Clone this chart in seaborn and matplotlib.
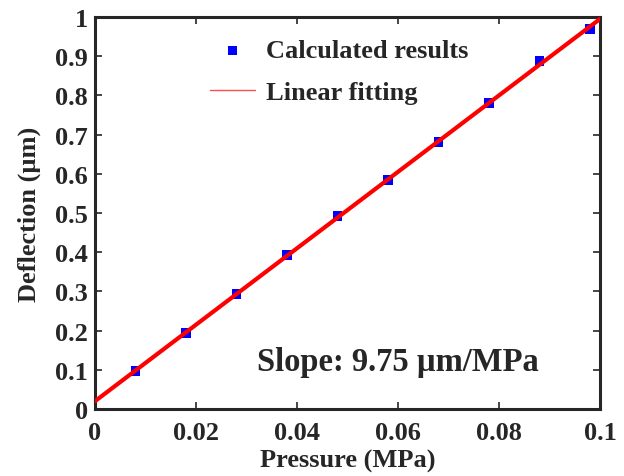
import numpy as np
import pandas as pd
import matplotlib
matplotlib.use("Agg")
import matplotlib.pyplot as plt
import seaborn as sns
from matplotlib.lines import Line2D

pressure = [0.008, 0.018, 0.028, 0.038, 0.048, 0.058, 0.068, 0.078, 0.088, 0.098]
deflection = [0.097, 0.194, 0.293, 0.393, 0.492, 0.584, 0.681, 0.781, 0.888, 0.969]
fit_x = [0.0, 0.1]
fit_y = [0.02, 0.995]
xticks = [0, 0.02, 0.04, 0.06, 0.08, 0.1]
xticklabels = ["0", "0.02", "0.04", "0.06", "0.08", "0.1"]
yticks = [0, 0.1, 0.2, 0.3, 0.4, 0.5, 0.6, 0.7, 0.8, 0.9, 1]
yticklabels = ["0", "0.1", "0.2", "0.3", "0.4", "0.5", "0.6", "0.7", "0.8", "0.9", "1"]

sns.set_style("ticks")
plt.rcParams['font.family'] = ['Liberation Serif', 'DejaVu Serif']
plt.rcParams['font.weight'] = 'bold'
plt.rcParams['axes.labelweight'] = 'bold'

FS = 19

fig = plt.figure(figsize=(6.24, 4.77), dpi=100)
ax = fig.add_axes([95/624, 67/477, 505/624, 392/477])

df = pd.DataFrame({"x": pressure, "y": deflection})
fit = pd.DataFrame({"x": fit_x, "y": fit_y})

sns.scatterplot(data=df, x="x", y="y", ax=ax, marker="s", s=45, color="#0000ff",
                edgecolor="none", label="Calculated results", zorder=2)
sns.lineplot(data=fit, x="x", y="y", ax=ax, color="#ff0000", lw=3,
             label="_nolegend_", zorder=3)
handles, labels = ax.get_legend_handles_labels()
handles = [h for h, l in zip(handles, labels) if l == "Calculated results"]
handles.append(Line2D([], [], color="#ff0000", lw=1, alpha=0.7))
ax.legend(handles, ["Calculated results", "Linear fitting"], loc="upper left",
          bbox_to_anchor=(186/624, 1 - 16/477), bbox_transform=fig.transFigure,
          frameon=False, prop={'size': FS, 'weight': 'bold'},
          handlelength=1.7, handletextpad=0.45, labelspacing=0.7, markerscale=1.0)

ax.set_xlim(0, 0.1)
ax.set_ylim(0, 1)
ax.set_xticks(xticks)
ax.set_xticklabels(xticklabels)
ax.set_yticks(yticks)
ax.set_yticklabels(yticklabels)
ax.tick_params(direction="in", length=5, width=1.2, labelsize=FS,
               top=True, right=True)
ax.tick_params(axis="x", pad=9)
ax.tick_params(axis="y", pad=5)
for lab in ax.get_xticklabels() + ax.get_yticklabels():
    lab.set_fontweight("bold")
for sp in ax.spines.values():
    sp.set_linewidth(2.2)
    sp.set_visible(True)

ax.set_xlabel("Pressure (MPa)", fontsize=FS, fontweight="bold", labelpad=3)
ax.set_ylabel("Deflection (µm)", fontsize=FS, fontweight="bold", labelpad=10)
ax.text(0.060, 0.122, "Slope: 9.75 µm/MPa", fontsize=23.5, fontweight="bold",
        ha="center", va="center")

fig.savefig("out.png", dpi=100)
